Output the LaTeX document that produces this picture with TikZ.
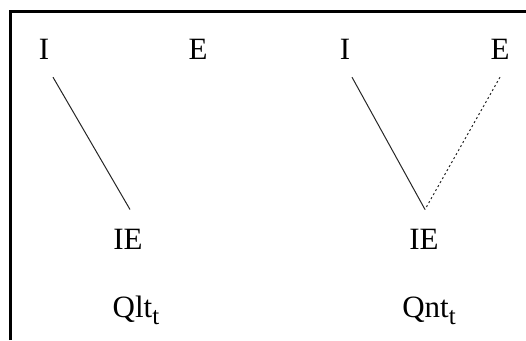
\documentclass[tikz,border=0pt]{standalone}
\usepackage{fontspec}
\setmainfont{Liberation Serif}
\usepackage{tikz}
\usetikzlibrary{positioning}
\newcommand{\lowsub}[1]{\raisebox{-7pt}{\fontsize{25}{25}\selectfont #1}}

\begin{document}
\begin{tikzpicture}[x=1pt,y=1pt,
  lab/.style={inner sep=0pt,anchor=base,font=\fontsize{31}{36}\selectfont},
  link/.style={line width=1pt,black!85},
  weak/.style={link,dash pattern=on 2pt off 2.6pt}]
\useasboundingbox (0,0) rectangle (526,340);
\draw[line width=3pt] (10,0) -- (10,328) -- (526,328);
% left: Qlt
\node[lab] (i1) at (44,280) {I};
\node[lab] (e1) at (198,280) {E};
\node[lab] (ie1) at (128,91) {IE};
\node[lab] (q1) at (136,23) {Qlt\lowsub{t}};
\draw[link] ([xshift=9pt,yshift=-17pt]i1.south) -- ([xshift=2pt,yshift=19pt]ie1.north);
% right: Qnt
\node[lab] (i2) at (345,280) {I};
\node[lab] (e2) at (500,280) {E};
\node[lab] (ie2) at (424,91) {IE};
\node[lab] (q2) at (429,23) {Qnt\lowsub{t}};
\draw[link] ([xshift=7pt,yshift=-17pt]i2.south) -- ([xshift=1pt,yshift=19pt]ie2.north);
\draw[weak] ([yshift=-17pt]e2.south) -- ([xshift=1pt,yshift=19pt]ie2.north);
\end{tikzpicture}
\end{document}
